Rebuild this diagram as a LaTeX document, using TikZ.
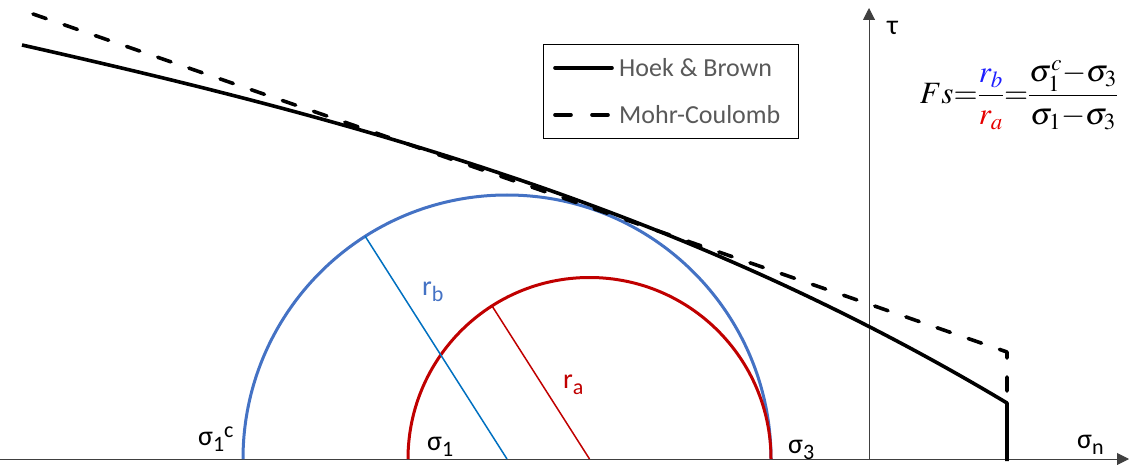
\documentclass[tikz,border=0pt]{standalone}
\usepackage{mathptmx}
\usepackage[no-math]{fontspec}
\setmainfont{Carlito}
\usetikzlibrary{arrows.meta}
\definecolor{cblue}{RGB}{68,114,196}
\definecolor{rblue}{RGB}{0,112,192}
\definecolor{cred}{RGB}{192,0,0}
\definecolor{legtext}{RGB}{89,89,89}
\definecolor{axisgray}{RGB}{64,64,64}
\definecolor{fblue}{RGB}{30,30,255}
\definecolor{fred}{RGB}{230,0,0}
\newcommand{\glab}[3]{{\fontsize{28}{30}\selectfont #1}\raisebox{-6pt}{\fontsize{22}{24}\selectfont #2}\raisebox{8pt}{\fontsize{22}{24}\selectfont #3}}
\begin{document}
\begin{tikzpicture}[x=1pt,y=-1pt,
  hb/.style={line width=3.6pt, black, line join=round},
  mc/.style={line width=3.6pt, black, dash pattern=on 14pt off 19pt, line cap=round, line join=round},
  axisline/.style={line width=1pt, axisgray, -{Triangle[length=12pt,width=12pt]}},
  circb/.style={line width=3pt, cblue},
  circr/.style={line width=3pt, cred},
  lab/.style={inner sep=0pt, anchor=base west},
  legtxt/.style={inner sep=0pt, anchor=west, text=legtext, font=\fontsize{26}{28}\selectfont}]
\useasboundingbox (0,0) rectangle (1130,465);
% axes
\coordinate (xs) at (0,459);
\coordinate (xe) at (1129,459);
\coordinate (ys) at (869,459);
\coordinate (ye) at (869,8);
\draw[axisline] (xs) -- (xe);
\draw[axisline] (ys) -- (ye);
% circles
\coordinate (cb) at (507,459);
\coordinate (cr) at (589.5,459);
\coordinate (pb) at (365.2,236.3);
\coordinate (pr) at (492,305.9);
\draw[circb] (243,459) arc[start angle=180,end angle=360,radius=264];
\draw[circr] (408,459) arc[start angle=180,end angle=360,radius=181.5];
\draw[rblue, line width=1.5pt] (cb) -- (pb);
\draw[cred, line width=1.5pt] (cr) -- (pr);
% envelopes
\coordinate (mcs) at (33,14);
\coordinate (mce) at (1007,352);
\coordinate (base) at (1007,461);
\draw[mc] (mcs) -- (mce) -- (base);
\draw[hb] plot[domain=0.22:10.07, samples=80] ({100*\x}, {40.046+22.4403*\x+0.3347*\x*\x+0.100906*\x*\x*\x}) -- (base);
% legend
\node[draw, line width=1.4pt, minimum width=255, minimum height=94, anchor=north west, inner sep=0pt] (leg) at (543,44) {};
\coordinate (l1a) at (555,68);
\coordinate (l1b) at (612,68);
\coordinate (l2a) at (555,115);
\coordinate (l2b) at (612,115);
\draw[hb, line cap=round] (l1a) -- (l1b);
\draw[line width=3.6pt, dash pattern=on 16pt off 21pt, line cap=round] (l2a) -- (l2b);
\node[legtxt] (t1) at (619,68) {Hoek \& Brown};
\node[legtxt] (t2) at (619,115) {Mohr-Coulomb};
% formula
\node[inner sep=0pt] (fs) at (1019,95) {\fontsize{31}{38}\selectfont $\displaystyle Fs{=}\frac{\color{fblue}r_b}{\color{fred}r_a}{=}\frac{\sigma_1^c{-}\sigma_3}{\sigma_1{-}\sigma_3}$};
% labels
\node[lab] (s1c) at (198,445) {\glab{σ}{1}{c}};
\node[lab] (s1) at (427,450) {\glab{σ}{1}{}};
\node[lab] (s3) at (788,453) {\glab{σ}{3}{}};
\node[lab] (sn) at (1077,448) {\glab{σ}{n}{}};
\node[lab] (tau) at (887,35) {\fontsize{28}{30}\selectfont τ};
\node[lab, text=cblue] (rb) at (422,295) {\glab{r}{b}{}};
\node[lab, text=cred] (ra) at (563,388) {\glab{r}{a}{}};
\end{tikzpicture}
\end{document}
